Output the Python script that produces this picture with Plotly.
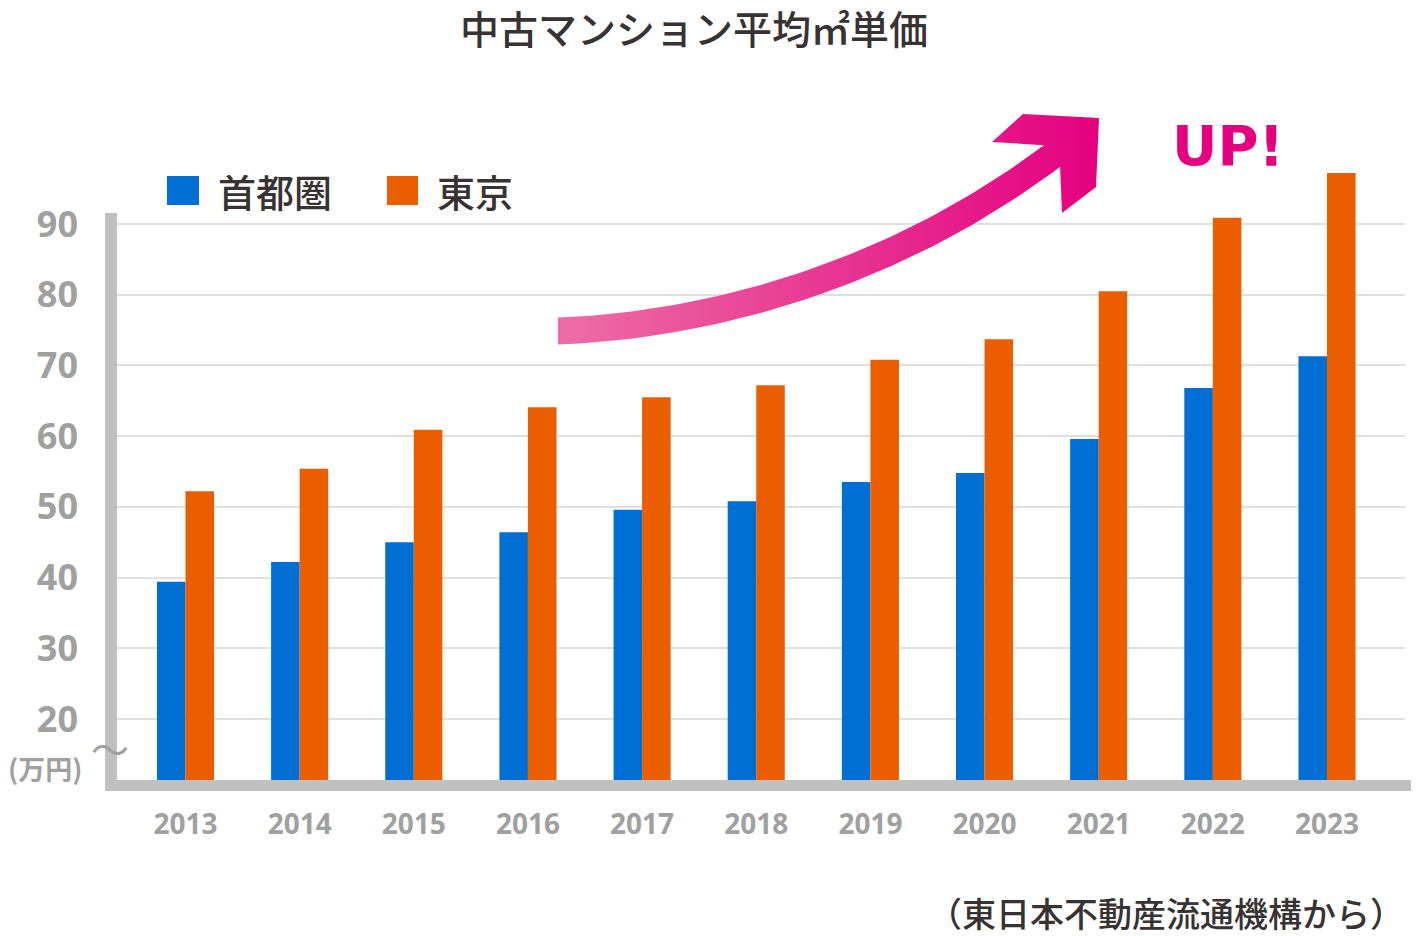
import numpy as np
import plotly.graph_objects as go

# ---------------- data ----------------
years = [2013, 2014, 2015, 2016, 2017, 2018, 2019, 2020, 2021, 2022, 2023]
shutoken = [39.4, 42.2, 45.0, 46.4, 49.6, 50.8, 53.5, 54.8, 59.6, 66.8, 71.3]
tokyo = [52.2, 55.4, 60.9, 64.1, 65.5, 67.2, 70.8, 73.7, 80.5, 90.9, 97.2]
ytick_vals = [20, 30, 40, 50, 60, 70, 80, 90]
series_names = ["首都圏", "東京"]
title_text = "中古マンション平均㎡単価"
unit_text = "(万円)"
source_text = "（東日本不動産流通機構から）"
badge_text = "UP!"

# ---------------- styling / layout ----------------
W, H = 1416, 936
L, R, T, B = 117, 11, 100, 156
PW, PH = W - L - R, H - T - B
BLUE, ORANGE = "#006ed2", "#ea5e00"
GRAY = "#a0a0a0"
AXIS_GRAY = "#c0c0c0"
DARK = "#383232"
PINK_DARK, PINK_LIGHT = "#e4007f", "#ec6ea6"

ppu = (719 - 224) / 70.0          # pixels per value unit
y_lo = 20 - (780 - 719) / ppu
y_hi = 20 + (719 - T) / ppu
spacing = 114.15
x_lo = years[0] - (185.5 - L) / spacing
x_hi = years[-1] + (W - R - 1327) / spacing


def xp(px):
    return (px - L) / PW


def yp(py):
    return (H - B - py) / PH


fig = go.Figure()
fig.add_trace(go.Bar(x=years, y=shutoken, name=series_names[0],
                     marker=dict(color=BLUE, line=dict(width=0))))
fig.add_trace(go.Bar(x=years, y=tokyo, name=series_names[1],
                     marker=dict(color=ORANGE, line=dict(width=0))))

# ---- decorative curved arrow (in pixel space on an overlay axis) ----
P0, P1, P2, P3 = map(np.array, [(558, 331), (720, 325), (900, 270), (1052, 156)])
t = np.linspace(0, 1, 60)[:, None]
curve = ((1 - t) ** 3) * P0 + 3 * ((1 - t) ** 2) * t * P1 + 3 * (1 - t) * t ** 2 * P2 + t ** 3 * P3
deriv = 3 * ((1 - t) ** 2) * (P1 - P0) + 6 * (1 - t) * t * (P2 - P1) + 3 * t ** 2 * (P3 - P2)
deriv = deriv / np.linalg.norm(deriv, axis=1, keepdims=True)
normal_up = np.column_stack([deriv[:, 1], -deriv[:, 0]])  # towards top-left on screen
hw = 13.5
upper = curve + normal_up * hw
lower = curve - normal_up * hw
upper[0] = (558, 331 - hw)
lower[0] = (558, 331 + hw)
head = np.array([(992, 142), (1023, 114), (1099, 118), (1096, 187), (1062, 213)])
poly = np.vstack([upper, head, lower[::-1], upper[:1]])
fig.add_trace(go.Scatter(x=poly[:, 0], y=poly[:, 1], xaxis="x2", yaxis="y2",
                         mode="lines", line=dict(width=0), fill="toself",
                         fillcolor=PINK_DARK,
                         fillgradient=dict(type="horizontal",
                                           colorscale=[[0, PINK_LIGHT], [1, PINK_DARK]]),
                         hoverinfo="skip", showlegend=False))

shapes = [
    dict(type="line", xref="paper", yref="paper", x0=xp(111), x1=xp(111),
         y0=yp(791), y1=yp(213), line=dict(color=AXIS_GRAY, width=12)),
    dict(type="line", xref="paper", yref="paper", x0=xp(105), x1=xp(1411),
         y0=yp(785.5), y1=yp(785.5), line=dict(color=AXIS_GRAY, width=11)),
    dict(type="rect", xref="paper", yref="paper", x0=xp(167), x1=xp(199),
         y0=yp(205), y1=yp(176), fillcolor=BLUE, line=dict(width=0)),
    dict(type="rect", xref="paper", yref="paper", x0=xp(387), x1=xp(418),
         y0=yp(205), y1=yp(176), fillcolor=ORANGE, line=dict(width=0)),
]

CJK = "Noto Sans CJK JP"
annotations = [
    dict(text=title_text, x=xp(694), y=yp(27), font=dict(family=CJK, size=39, color=DARK, weight=500)),
    dict(text=series_names[0], x=xp(216), y=yp(191), xanchor="left",
         font=dict(family=CJK, size=38, color=DARK, weight=500)),
    dict(text=series_names[1], x=xp(435), y=yp(191), xanchor="left",
         font=dict(family=CJK, size=38, color=DARK, weight=500)),
    dict(text=badge_text, x=xp(1228), y=yp(145),
         font=dict(family="DejaVu Sans", size=56, color=PINK_DARK, weight=900)),
    dict(text="〜", x=xp(110), y=yp(747), font=dict(family=CJK, size=38, color=GRAY)),
    dict(text=unit_text, x=xp(45), y=yp(768),
         font=dict(family=CJK, size=27, color=GRAY, weight=700)),
    dict(text=source_text, x=xp(1406), y=yp(912), xanchor="right",
         font=dict(family=CJK, size=34, color=DARK, weight=500)),
]
for a in annotations:
    a.update(xref="paper", yref="paper", showarrow=False)
    a.setdefault("xanchor", "center")
    a.setdefault("yanchor", "middle")

fig.update_layout(
    width=W, height=H,
    margin=dict(l=L, r=R, t=T, b=B, pad=0),
    paper_bgcolor="white", plot_bgcolor="white",
    barmode="group", bargap=0.5, bargroupgap=0,
    showlegend=False,
    hovermode=False,
    shapes=shapes,
    annotations=annotations,
    xaxis=dict(range=[x_lo, x_hi], tickvals=years, ticktext=[str(y) for y in years],
               showgrid=False, zeroline=False, showline=False, ticks="",
               tickfont=dict(family="Open Sans", size=28, color=GRAY, weight=700),
               ticklabelstandoff=25),
    yaxis=dict(range=[y_lo, y_hi], tickvals=ytick_vals, showgrid=True,
               gridcolor="#e0e0e0", gridwidth=2, zeroline=False, showline=False,
               ticks="", tickfont=dict(family="Open Sans", size=36, color=GRAY, weight=700),
               ticklabelstandoff=38),
    xaxis2=dict(overlaying="x", range=[L, W - R], visible=False),
    yaxis2=dict(overlaying="y", range=[H - B, T], visible=False),
)

fig.write_html("out.html", config=dict(displayModeBar=False, staticPlot=True),
               post_script="document.body.style.margin='0';document.body.style.overflow='hidden';")
